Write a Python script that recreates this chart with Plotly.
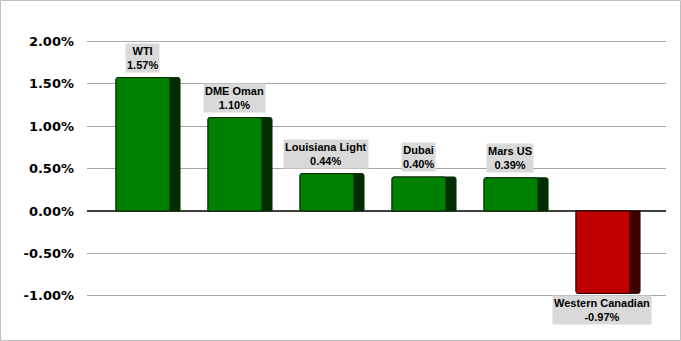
import plotly.graph_objects as go

categories = ["WTI", "DME Oman", "Louisiana Light", "Dubai", "Mars US", "Western Canadian"]
values = [1.57, 1.10, 0.44, 0.40, 0.39, -0.97]
label_names = ["WTI", "DME Oman", "Louisiana Light", "Dubai", "Mars US", "Western Canadian"]
tick_vals = [-1.0, -0.5, 0.0, 0.5, 1.0, 1.5, 2.0]
tick_text = ["-1.00%", "-0.50%", "0.00%", "0.50%", "1.00%", "1.50%", "2.00%"]

W, H = 681, 341
L, R, T, B = 87, 15, 36, 40
PW, PH = W - L - R, H - T - B

xs = list(range(len(categories)))
front_col = ["#008000" if v >= 0 else "#C00000" for v in values]
side_col = ["#002E00" if v >= 0 else "#3F0000" for v in values]
line_col = ["#0B2A0B" if v >= 0 else "#2A0000" for v in values]

fig = go.Figure()
# side (depth) face
fig.add_trace(go.Bar(
    x=xs, y=values, width=0.696, offset=-0.348,
    marker=dict(color=side_col, line=dict(color=line_col, width=1), cornerradius=2),
    hoverinfo="skip", showlegend=False,
))
# front face
fig.add_trace(go.Bar(
    x=xs, y=values, width=0.587, offset=-0.348,
    marker=dict(color=front_col, line=dict(color=line_col, width=1), cornerradius=2),
    hoverinfo="skip", showlegend=False,
))

annotations = []
for i, (n, v) in enumerate(zip(label_names, values)):
    annotations.append(dict(
        x=i, y=v, xref="x", yref="y",
        text=f"<b>{n}<br>{v:.2f}%</b>",
        showarrow=False,
        xshift=-6,
        yanchor="bottom" if v >= 0 else "top",
        yshift=5 if v >= 0 else -2,
        bgcolor="#D9D9D9",
        borderpad=1,
        font=dict(family="Liberation Sans, Arial", size=11, color="#000000"),
        align="center",
    ))

fig.update_layout(
    width=W, height=H,
    margin=dict(l=L, r=R, t=T, b=B),
    paper_bgcolor="white", plot_bgcolor="white",
    barmode="overlay",
    annotations=annotations,
    xaxis=dict(range=[-0.663, 5.630], showticklabels=False, showgrid=False,
               zeroline=False, showline=False, fixedrange=True),
    yaxis=dict(range=[-1.06, 2.06], tickvals=tick_vals, ticktext=tick_text,
               showgrid=True, gridcolor="#A6A6A6", gridwidth=1,
               zeroline=True, zerolinecolor="#404040", zerolinewidth=2,
               showline=False, ticks="", ticklabelstandoff=12,
               tickfont=dict(family="DejaVu Sans", size=13, color="#000000", weight="bold")),
    shapes=[dict(type="rect", xref="paper", yref="paper",
                 x0=(0.5 - L) / PW, x1=(W - 0.5 - L) / PW,
                 y0=(H - B - (H - 0.5)) / PH, y1=(H - B - 0.5) / PH,
                 line=dict(color="#BFBFBF", width=1), layer="below")],
)

fig.write_html("out.html")
